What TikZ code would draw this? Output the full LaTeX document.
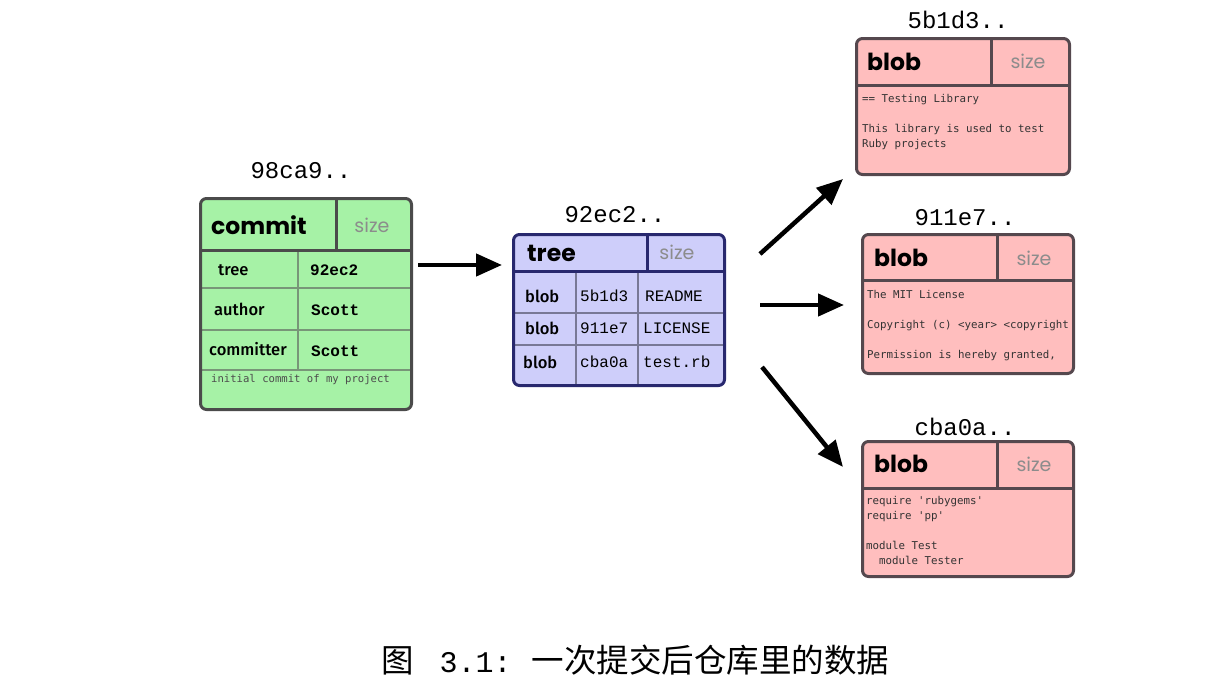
\documentclass[tikz,border=0pt]{standalone}
\usepackage{fontspec}
\usetikzlibrary{arrows.meta,calc}
\newfontfamily\hdfont{Poppins}[BoldFont={* Bold}]
\newfontfamily\cellfont{Fira Sans Medium}
\newfontfamily\hashfont{Liberation Mono}
\newfontfamily\codefont{DejaVu Sans Mono}
\newfontfamily\cjk{Noto Sans CJK SC}
\definecolor{cgreen}{RGB}{166,242,166}
\definecolor{cgreenline}{RGB}{120,150,120}
\definecolor{cblue}{RGB}{206,206,250}
\definecolor{cblueline}{RGB}{40,40,110}
\definecolor{cbluegrid}{RGB}{120,120,150}
\definecolor{cpink}{RGB}{255,190,190}
\definecolor{cpinkline}{RGB}{85,72,78}
\definecolor{cbord}{RGB}{75,75,75}
\definecolor{sizegray}{RGB}{140,140,140}
\begin{document}
\begin{tikzpicture}[x=1pt,y=-1pt,
  objbox/.style={rectangle,rounded corners=6pt,line width=3pt,inner sep=0pt,anchor=north west},
  hdtext/.style={font=\hdfont\bfseries\fontsize{23.5}{26}\selectfont,anchor=west,inner sep=0pt},
  sizetext/.style={font=\hdfont\fontsize{19}{22}\selectfont,text=sizegray,inner sep=0pt},
  hashlabel/.style={font=\hashfont\fontsize{24}{27}\selectfont,inner sep=0pt},
  celltext/.style={font=\cellfont\fontsize{16.5}{19}\selectfont,anchor=west,inner sep=0pt},
  monotext/.style={font=\hashfont\bfseries\fontsize{16}{18}\selectfont,anchor=west,inner sep=0pt},
  treemono/.style={font=\hashfont\fontsize{16}{18}\selectfont,anchor=west,inner sep=0pt},
  codetext/.style={font=\codefont\fontsize{10.8}{15}\selectfont,anchor=north west,align=left,inner sep=0pt,text=black!80},
  thin/.style={line width=1.5pt},
  arr/.style={line width=4.5pt,-{Triangle[length=26pt,width=22pt]}}
]
\useasboundingbox (0,0) rectangle (1208,678);

% ---------- commit ----------
\node[hashlabel] (h1) at (301,171) {98ca9..};
\node[objbox,fill=cgreen,minimum width=211pt,minimum height=211pt] (commit) at (199,197) {};
\draw[thin,cgreenline] (199,288) -- (410,288) (199,330) -- (410,330) (199,370) -- (410,370);
\draw[thin,cgreenline] (298,250) -- (298,370);
\draw[line width=3pt,cbord] (199,250) -- (410,250) (336,197) -- (336,250);
\node[objbox,draw=cbord,minimum width=211pt,minimum height=211pt] (commitframe) at (199,197) {};
\node[hdtext] (ct) at (211,225) {commit};
\node[sizetext] (cs) at (372,225) {size};
\node[celltext] (c1) at (218,270) {tree};
\node[monotext] (c1v) at (310,270) {92ec2};
\node[celltext] (c2) at (214,309) {author};
\node[monotext] (c2v) at (311,310) {Scott};
\node[celltext] (c3) at (209,349) {committer};
\node[monotext] (c3v) at (311,351) {Scott};
\node[codetext,anchor=west,text=black!70,font=\codefont\fontsize{10.6}{12}\selectfont] (cm) at (211,380) {initial commit of my project};

% ---------- tree ----------
\node[hashlabel] (h2) at (615,215) {92ec2..};
\node[objbox,fill=cblue,minimum width=211pt,minimum height=151pt] (tree) at (512,233) {};
\draw[thin,cbluegrid] (512,313) -- (723,313) (512,345) -- (723,345);
\draw[thin,cbluegrid] (576,271) -- (576,384) (638,271) -- (638,384);
\draw[line width=3pt,cblueline] (512,271) -- (723,271) (647,233) -- (647,271);
\node[objbox,draw=cblueline,minimum width=211pt,minimum height=151pt] (treeframe) at (512,233) {};
\node[hdtext] (tt) at (527,253) {tree};
\node[sizetext] (ts) at (677,252) {size};
\node[celltext] (t1) at (525,296) {blob};
\node[celltext] (t2) at (525,328) {blob};
\node[celltext] (t3) at (523,362) {blob};
\node[treemono] (t1h) at (580,296) {5b1d3};
\node[treemono] (t2h) at (580,328) {911e7};
\node[treemono] (t3h) at (580,362) {cba0a};
\node[treemono] (t1n) at (645,296) {README};
\node[treemono] (t2n) at (643,328) {LICENSE};
\node[treemono] (t3n) at (643,362) {test.rb};

% ---------- blob 1 ----------
\node[hashlabel] (h3) at (958,20) {5b1d3..};
\node[objbox,fill=cpink,minimum width=213pt,minimum height=136pt] (b1) at (855,37) {};
\draw[line width=3pt,cpinkline] (855,85) -- (1068,85) (991,37) -- (991,85);
\node[objbox,draw=cpinkline,minimum width=213pt,minimum height=136pt] (b1f) at (855,37) {};
\node[hdtext] (b1t) at (867,62) {blob};
\node[sizetext] (b1s) at (1028,61) {size};
\node[codetext] (b1c) at (862,94) {== Testing Library\\[15pt] This library is used to test\\Ruby projects};

% ---------- blob 2 ----------
\node[hashlabel] (h4) at (965,218) {911e7..};
\node[objbox,fill=cpink,minimum width=211pt,minimum height=139pt] (b2) at (861,233) {};
\draw[line width=3pt,cpinkline] (861,280) -- (1072,280) (997,233) -- (997,280);
\begin{scope}
\clip (861,280) rectangle (1071,372);
\node[codetext] (b2c) at (867,290) {The MIT License\\[15pt] Copyright (c) <year> <copyright holders>\\[15pt] Permission is hereby granted,};
\end{scope}
\node[objbox,draw=cpinkline,minimum width=211pt,minimum height=139pt] (b2f) at (861,233) {};
\node[hdtext] (b2t) at (874,258) {blob};
\node[sizetext] (b2s) at (1034,258) {size};

% ---------- blob 3 ----------
\node[hashlabel] (h5) at (965,427) {cba0a..};
\node[objbox,fill=cpink,minimum width=211pt,minimum height=135pt] (b3) at (861,440) {};
\draw[line width=3pt,cpinkline] (861,488) -- (1072,488) (997,440) -- (997,488);
\node[objbox,draw=cpinkline,minimum width=211pt,minimum height=135pt] (b3f) at (861,440) {};
\node[hdtext] (b3t) at (874,464) {blob};
\node[sizetext] (b3s) at (1034,464) {size};
\node[codetext] (b3c) at (866,496) {require 'rubygems'\\require 'pp'\\[15pt] module Test\\\ \ module Tester};

% ---------- arrows ----------
\coordinate (a1s) at (418,265);
\coordinate (a2s) at (760,254);
\coordinate (a3s) at (760,305);
\coordinate (a4s) at (762,367);
\draw[arr] (a1s) -- ($(a1s -| tree.west)+(-10,0)$);
\draw[arr] (a2s) -- ($(b1.south west)+(-12,3)$);
\draw[arr] (a3s) -- ($(a3s -| b2.west)+(-17,0)$);
\draw[arr] (a4s) -- ($(b3.north west)+(-18,27)$);

% ---------- caption ----------
\node[anchor=west,inner sep=0pt,font=\cjk\fontsize{32.5}{34}\selectfont] (cap) at (381,660) {图\hspace{26pt}{\hashfont\fontsize{30}{32}\selectfont 3.1:}\hspace{20pt}一次提交后仓库里的数据};
\end{tikzpicture}
\end{document}
